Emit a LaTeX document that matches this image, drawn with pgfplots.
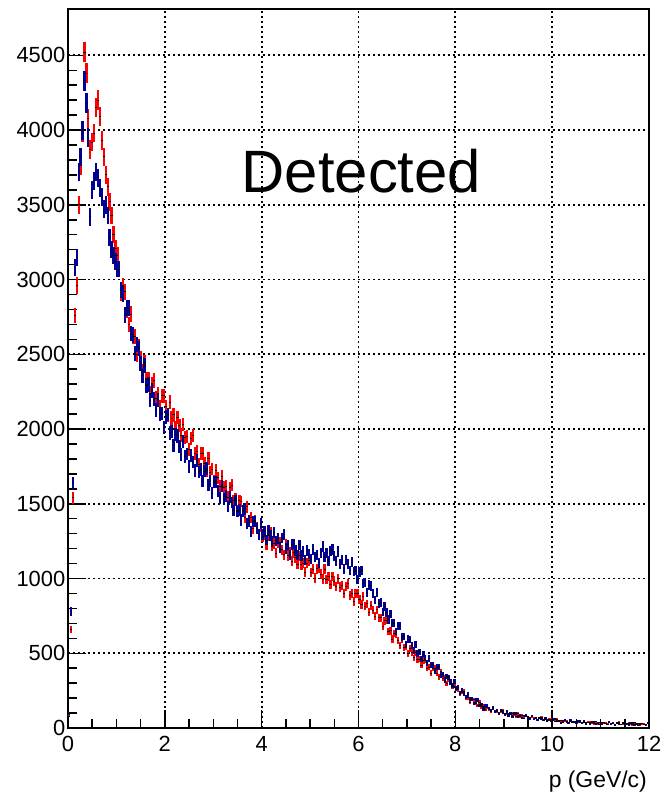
\documentclass[border=0pt]{standalone}
\usepackage{fontspec}
\setmainfont{Liberation Sans}
\usepackage{pgfplots}
\usepackage{pgfplotstable}
\pgfplotsset{compat=1.18}

\definecolor{rootred}{RGB}{255,0,0}
\definecolor{rootblue}{RGB}{0,0,153}

% bin centre, blue counts, red counts (bin width 0.04 GeV/c)
\pgfplotstableread{
x b r
0.02 100 80
0.06 780 660
0.10 1640 1540
0.14 3080 2760
0.18 3150 2960
0.22 3720 3500
0.26 3820 3760
0.30 4000 3980
0.34 4330 4520
0.38 4180 4380
0.42 3950 4080
0.46 3420 3870
0.50 3600 3920
0.54 3660 3980
0.58 3720 4150
0.62 3680 4200
0.66 3610 4090
0.70 3550 3930
0.74 3470 3820
0.78 3500 3700
0.82 3430 3620
0.86 3280 3520
0.90 3200 3430
0.94 3160 3300
0.98 3120 3210
1.02 3070 3160
1.06 3070 3070
1.10 2928 2912
1.14 2901 2957
1.18 2761 2918
1.22 2812 2794
1.26 2808 2698
1.30 2639 2768
1.34 2630 2619
1.38 2504 2620
1.42 2565 2499
1.46 2540 2555
1.50 2440 2475
1.54 2356 2386
1.58 2423 2444
1.62 2291 2336
1.66 2299 2330
1.70 2193 2238
1.74 2258 2303
1.78 2200 2326
1.82 2128 2207
1.86 2196 2235
1.90 2102 2145
1.94 2104 2223
1.98 2011 2222
2.02 2082 2151
2.06 2098 2094
2.10 1974 2180
2.14 1985 2073
2.18 1889 2094
2.22 1962 2006
2.26 1954 2076
2.30 1881 2024
2.34 1832 1960
2.38 1916 2029
2.42 1814 1942
2.46 1833 1949
2.50 1749 1863
2.54 1824 1936
2.58 1779 1955
2.62 1722 1835
2.66 1791 1850
2.70 1713 1762
2.74 1728 1836
2.78 1651 1838
2.82 1719 1772
2.86 1736 1723
2.90 1627 1804
2.94 1650 1710
2.98 1570 1732
3.02 1645 1655
3.06 1646 1723
3.10 1587 1674
3.14 1540 1618
3.18 1616 1685
3.22 1531 1609
3.26 1552 1618
3.30 1483 1543
3.34 1546 1608
3.38 1509 1624
3.42 1455 1519
3.46 1522 1535
3.50 1450 1453
3.54 1458 1519
3.58 1391 1515
3.62 1451 1452
3.66 1466 1407
3.70 1370 1479
3.74 1385 1387
3.78 1316 1406
3.82 1383 1335
3.86 1383 1390
3.90 1333 1344
3.94 1294 1292
3.98 1367 1345
4.02 1293 1281
4.06 1316 1292
4.10 1257 1229
4.14 1319 1290
4.18 1289 1308
4.22 1248 1217
4.26 1309 1235
4.30 1251 1169
4.34 1267 1237
4.38 1204 1241
4.42 1270 1193
4.46 1293 1160
4.50 1202 1230
4.54 1225 1154
4.58 1159 1175
4.62 1227 1114
4.66 1231 1172
4.70 1188 1138
4.74 1156 1095
4.78 1225 1152
4.82 1154 1092
4.86 1180 1102
4.90 1124 1042
4.94 1187 1103
4.98 1163 1119
5.02 1128 1041
5.06 1194 1062
5.10 1141 1003
5.14 1160 1065
5.18 1107 1072
5.22 1173 1030
5.26 1213 996
5.30 1143 1062
5.34 1173 993
5.38 1116 1014
5.42 1185 958
5.46 1195 1013
5.50 1153 983
5.54 1117 944
5.58 1181 998
5.62 1097 943
5.66 1121 952
5.70 1065 897
5.74 1126 949
5.78 1096 964
5.82 1054 887
5.86 1108 902
5.90 1047 845
5.94 1054 899
5.98 994 902
6.02 1044 859
6.06 1054 825
6.10 965 881
6.14 974 815
6.18 908 830
6.22 956 775
6.26 950 820
6.30 899 788
6.34 857 748
6.38 907 791
6.42 833 736
6.46 839 736
6.50 776 680
6.54 812 718
6.58 773 722
6.62 726 646
6.66 763 651
6.70 704 595
6.74 702 631
6.78 645 625
6.82 680 584
6.86 684 553
6.90 610 596
6.94 614 539
6.98 559 548
7.02 595 497
7.06 590 530
7.10 550 503
7.14 518 469
7.18 557 502
7.22 500 458
7.26 509 461
7.30 463 420
7.34 495 452
7.38 468 458
7.42 435 401
7.46 465 408
7.50 422 367
7.54 422 400
7.58 380 399
7.62 408 367
7.66 411 342
7.70 355 375
7.74 358 330
7.78 316 336
7.82 343 300
7.86 339 324
7.90 307 302
7.94 282 275
7.98 310 297
8.02 266 261
8.06 269 260
8.10 233 226
8.14 252 245
8.18 230 245
8.22 205 201
8.26 225 204
8.30 194 173
8.34 194 193
8.38 164 189
8.42 184 167
8.46 187 150
8.50 151 172
8.54 154 142
8.58 128 146
8.62 147 123
8.66 146 141
8.70 129 128
8.74 115 112
8.78 135 129
8.82 111 110
8.86 117 113
8.90 98 94
8.94 116 112
8.98 106 117
9.02 93 94
9.06 110 99
9.10 92 80
9.14 96 99
9.18 79 100
9.22 96 87
9.26 100 77
9.30 77 96
9.34 82 77
9.38 65 82
9.42 81 66
9.46 83 82
9.50 71 74
9.54 63 63
9.58 80 78
9.62 62 64
9.66 68 68
9.70 54 56
9.74 68 67
9.78 62 73
9.82 52 53
9.86 66 58
9.90 53 44
9.94 56 59
9.98 44 60
10.02 57 51
10.06 62 44
10.10 44 59
10.14 49 45
10.18 36 49
10.22 49 38
10.26 51 50
10.30 43 44
10.34 36 37
10.38 50 49
10.42 38 39
10.46 43 42
10.50 32 33
10.54 44 43
10.58 38 47
10.62 32 33
10.66 44 37
10.70 34 26
10.74 37 39
10.78 27 40
10.82 39 34
10.86 43 28
10.90 29 42
10.94 33 30
10.98 24 35
11.02 36 26
11.06 37 36
11.10 31 32
11.14 25 26
11.18 38 37
11.22 28 29
11.26 32 31
11.30 23 24
11.34 34 33
11.38 30 38
11.42 24 25
11.46 35 29
11.50 27 20
11.54 29 31
11.58 21 33
11.62 32 27
11.66 36 23
11.70 23 34
11.74 27 24
11.78 19 29
11.82 30 21
11.86 31 30
11.90 25 26
11.94 21 22
11.98 32 31
}\hist

\begin{document}
\begin{tikzpicture}
\useasboundingbox (-68bp,-66bp) rectangle (596bp,728bp);
\begin{axis}[
    scale only axis,
    width=581bp, height=719bp,
    xmin=0, xmax=12, ymin=0, ymax=4810,
    xtick={0,2,...,12}, minor x tick num=3,
    ytick={0,500,...,4500}, minor y tick num=4,
    tick pos=left, tick align=inside,
    major tick length=18bp, minor tick length=9bp,
    tick style={black, line width=1.5bp},
    axis line style={line width=1.8bp},
    grid=major,
    major grid style={black, line width=1.8bp, dash pattern=on 1.6bp off 3.4bp},
    ticklabel style={font=\fontsize{22}{22}\selectfont},
    yticklabel style={inner sep=2.5bp},
    xticklabel style={yshift=-5bp},
    /pgf/number format/assume math mode=true,
    /pgf/number format/1000 sep={},
    scaled y ticks=false,
    xlabel={p (GeV/c)},
    xlabel style={at={(axis description cs:1,0)}, anchor=base east,
        inner sep=0pt, xshift=-2bp, yshift=-59bp,
        font=\fontsize{23}{23}\selectfont},
]
\addplot[only marks, mark=-, mark size=1.1bp, mark options={black, line width=1bp},
    error bars/.cd, y dir=both, y explicit, error mark=none,
    error bar style={rootred, line width=2.3bp}]
    table[x=x, y=r, y error expr=sqrt(\thisrow{r})] {\hist};
\addplot[only marks, mark=-, mark size=1.1bp, mark options={black, line width=1bp},
    error bars/.cd, y dir=both, y explicit, error mark=none,
    error bar style={rootblue, line width=2.3bp}]
    table[x=x, y=b, y error expr=sqrt(\thisrow{b})] {\hist};
\node[anchor=base, inner sep=0pt, font=\fontsize{60}{60}\selectfont]
    at (axis cs:6.06,3584) {Detected};
\end{axis}
\end{tikzpicture}
\end{document}
